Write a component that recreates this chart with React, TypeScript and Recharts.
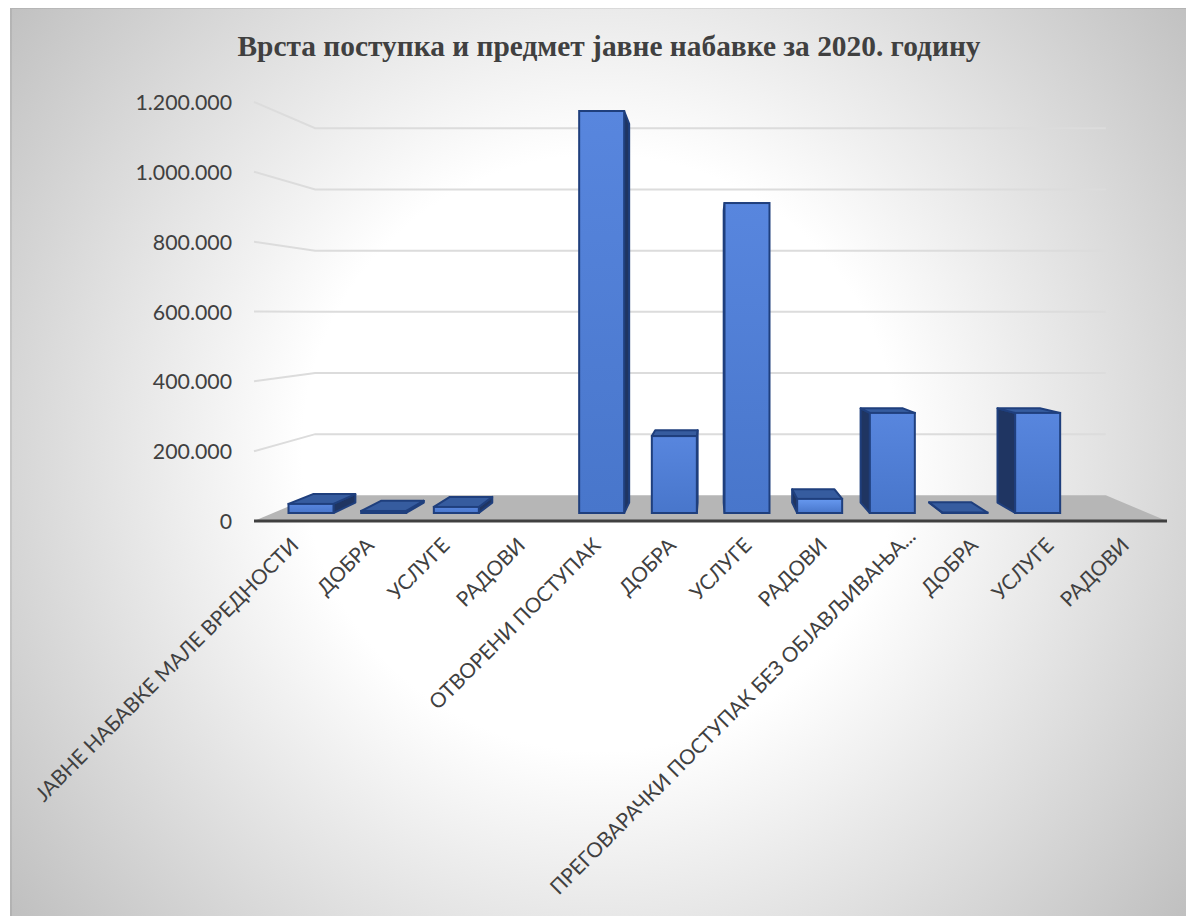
import React from "react";
import { BarChart, Bar, XAxis, YAxis, CartesianGrid } from "recharts";

const categories = [
  "ЈАВНЕ НАБАВКЕ МАЛЕ ВРЕДНОСТИ", "ДОБРА", "УСЛУГЕ", "РАДОВИ",
  "ОТВОРЕНИ ПОСТУПАК", "ДОБРА", "УСЛУГЕ", "РАДОВИ",
  "ПРЕГОВАРАЧКИ ПОСТУПАК БЕЗ ОБЈАВЉИВАЊА...", "ДОБРА", "УСЛУГЕ", "РАДОВИ",
];
const values: (number | null)[] = [
  27000, 6000, 18000, null, 1197000, 229000, 923000, 42000, 298000, 1000, 298000, null,
];
const yTicks = [0, 200000, 400000, 600000, 800000, 1000000, 1200000];
const title = "Врста поступка и предмет јавне набавке за 2020. годину";

const data = categories.map((name, i) => ({ name, value: values[i] }));

const W = 1176, H = 908;
const M = { left: 154, right: 19, top: 94, bottom: 15 };
const YW = 90;
const PL = M.left + YW, PR = W - M.right;
const VX = 700.5, VY = 318; // vanishing point in chart coordinates
const PAD_L = 20.5, PAD_R = 20.5;

const fmt = (v: number) => v.toLocaleString("de-DE");

const GridLine = (p: any) => {
  const { x1, x2, y1 } = p;
  const b = x1 + (VX - x1) * 0.134;
  const e = x2 + (VX - x2) * 0.134;
  const yb = y1 + (306 - y1) * 0.124;
  if (y1 > 500) {
    return (
      <g key={p.key}>
        <polygon points={`${x1},${y1} ${b},${yb} ${e},${yb} ${x2},${y1}`} fill="#b6b6b6" />
        <line x1={x1} x2={x2} y1={y1} y2={y1} stroke="#404040" strokeWidth={3} />
      </g>
    );
  }
  return (
    <polyline key={p.key} points={`${x1},${y1} ${b},${yb} ${e},${yb}`} fill="none" stroke="#dcdcdc" strokeWidth={2} />
  );
};

const Box3D = (p: any) => {
  const { x, y, width, height, index } = p;
  if (p.value == null || !width) return null;
  const d = 0.058;
  const base = y + height - 8;
  const top = base - height * (403 / 419);
  const px = (a: number) => a + (VX - a) * d;
  const py = (a: number) => a + (VY + 8 - a) * d;
  const L = x, R = x + width;
  const stroke = "#1f3f7d";
  const topFace = `${L},${top} ${R},${top} ${px(R)},${py(top)} ${px(L)},${py(top)}`;
  const rightSide = L + width / 2 < VX;
  const sx = rightSide ? R : L;
  const side = `${sx},${top} ${px(sx)},${py(top)} ${px(sx)},${py(base)} ${sx},${base}`;
  return (
    <g>
      <polygon points={side} fill="#1f3562" stroke={stroke} strokeWidth={2} strokeLinejoin="round" />
      {py(top) < top && (
        <polygon points={topFace} fill="#365c9f" stroke={stroke} strokeWidth={2} strokeLinejoin="round" />
      )}
      <rect x={L} y={top} width={width} height={base - top} fill={`url(#face${index === 6 ? 1 : 0})`} stroke={stroke} strokeWidth={2} />
    </g>
  );
};

// labels sit on the front edge of the floor, which is wider than the bar plane
const XTick = (p: any) => {
  const mid = (PL + PR) / 2;
  const label: string = p.payload.value;
  const cut = label.endsWith("...");
  const lx = mid + (p.x - mid) * 1.039 + 1 + (cut ? 13 : 0);
  const ly = p.y + 14 - (cut ? 9 : 0);
  return (
    <text
      x={lx}
      y={ly}
      textAnchor="end"
      transform={`rotate(-45 ${lx} ${ly})`}
      fontFamily="Lato"
      fontSize={20.6}
      fill="#404040"
      dominantBaseline="middle"
    >
      {label}
    </text>
  );
};

export default function App() {
  return (
    <div
      style={{
        position: "relative",
        width: W,
        height: H,
        marginLeft: 2,
        boxShadow: "inset 2px 1px 0 rgba(0,0,0,0.07)",
        background:
          "radial-gradient(circle 745px at 590px 445px, #ffffff 0%, #ffffff 40%, #c0c0c0 100%)",
      }}
    >
      <div
        style={{
          position: "absolute",
          left: 0,
          width: 1198,
          top: 22,
          textAlign: "center",
          fontFamily: "'Liberation Serif'",
          fontWeight: 700,
          fontSize: 29.4,
          color: "#404040",
          whiteSpace: "nowrap",
        }}
      >
        {title}
      </div>
      <BarChart width={W} height={H} data={data} margin={M} barSize={45}>
        <defs>
          <linearGradient id="face0" x1="0" y1="0" x2="0" y2="1">
            <stop offset="0" stopColor="#5886de" />
            <stop offset="1" stopColor="#4876cb" />
          </linearGradient>
          <linearGradient id="face1" x1="0" y1="0" x2="0" y2="1">
            <stop offset="0" stopColor="#6799f0" />
            <stop offset="1" stopColor="#4876cb" />
          </linearGradient>
        </defs>
        <CartesianGrid vertical={false} horizontal={GridLine as any} />
        <XAxis
          dataKey="name"
          interval={0}
          height={380}
          padding={{ left: PAD_L, right: PAD_R }}
          axisLine={false}
          tickLine={false}
          tick={XTick as any}
        />
        <YAxis
          width={YW}
          domain={[0, 1200000]}
          ticks={yTicks}
          tickFormatter={fmt}
          axisLine={false}
          tickLine={false}
          tickMargin={16}
          tick={{ fontFamily: "Lato", fontSize: 21.3, fill: "#404040", dy: 0.5 }}
        />
        <Bar dataKey="value" isAnimationActive={false} shape={Box3D as any} />
      </BarChart>
    </div>
  );
}
